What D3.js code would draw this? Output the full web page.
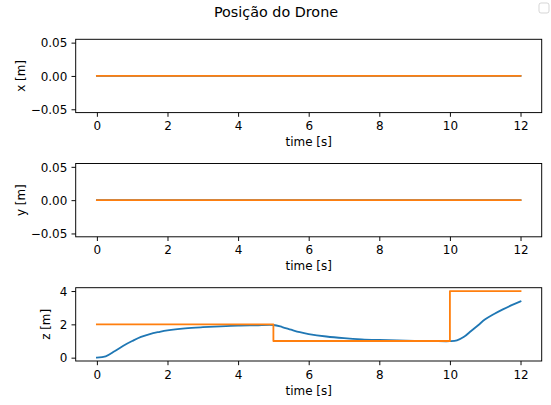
<!DOCTYPE html>
<html>
<head>
<meta charset="utf-8">
<script src="https://cdn.jsdelivr.net/npm/d3@7"></script>
<style>
  body { margin: 0; background: #ffffff; }
  text { font-family: "DejaVu Sans", sans-serif; fill: #000000; }
</style>
</head>
<body>
<div id="drone_chart"></div>
<script>
// referência (degraus) e posição simulada do drone
const time_flat = [0, 12];
const x_pos = [0, 0];
const x_ref = [0, 0];
const y_pos = [0, 0];
const y_ref = [0, 0];

const time_ref = [0, 5, 10, 12];
const z_ref = [2, 1, 4, 4];

const time_pos = [0, 0.25, 0.5, 0.75, 1.0, 1.25, 1.5, 1.75, 2.0, 2.5, 3.0, 3.5, 4.0, 4.5, 5.0,
                  5.25, 5.5, 5.75, 6.0, 6.5, 7.0, 7.5, 8.0, 8.5, 9.0, 9.5, 10.0,
                  10.2, 10.4, 10.6, 10.8, 11.0, 11.25, 11.5, 11.75, 12.0];
const z_pos = [0, 0.08, 0.38, 0.72, 1.0, 1.25, 1.42, 1.54, 1.64, 1.76, 1.83, 1.88, 1.92, 1.94, 1.96,
               1.84, 1.68, 1.53, 1.42, 1.27, 1.17, 1.10, 1.06, 1.03, 1.01, 1.0, 0.99,
               1.04, 1.25, 1.6, 1.95, 2.3, 2.62, 2.9, 3.15, 3.38];

const time_ticks = [0, 2, 4, 6, 8, 10, 12];
const xy_ticks = [-0.05, 0, 0.05];
const z_ticks = [0, 2, 4];

const panel_labels = ["x [m]", "y [m]", "z [m]"];
const title_text = "Posição do Drone";
const xlabel_text = "time [s]";

function generate_drone() {
  const width = 551, height = 405;
  const left = 75.7, right = 541.7;
  const panel_tops = [39.3, 163.5, 287.7];
  const panel_h = 73.3;
  const blue = "#1f77b4", orange = "#ff7f0e";
  const fs = "11.96px";
  const tick_len = 4.2;

  const svg = d3.select("#drone_chart")
    .append("svg")
      .attr("width", width)
      .attr("height", height);

  const x_scale = d3.scaleLinear()
    .domain([-0.6, 12.6])
    .range([left, right]);

  const panels = [
    {label: panel_labels[0], domain: [-0.055, 0.055], ticks: xy_ticks, fmt: d3.format(".2f"), labelX: 25,
     series: [{t: time_flat, v: x_pos, color: blue, curve: d3.curveLinear},
              {t: time_flat, v: x_ref, color: orange, curve: d3.curveLinear}]},
    {label: panel_labels[1], domain: [-0.055, 0.055], ticks: xy_ticks, fmt: d3.format(".2f"), labelX: 25,
     series: [{t: time_flat, v: y_pos, color: blue, curve: d3.curveLinear},
              {t: time_flat, v: y_ref, color: orange, curve: d3.curveLinear}]},
    {label: panel_labels[2], domain: [-0.2, 4.2], ticks: z_ticks, fmt: d3.format("d"), labelX: 50,
     series: [{t: time_pos, v: z_pos, color: blue, curve: d3.curveCatmullRom.alpha(0.5)},
              {t: time_ref, v: z_ref, color: orange, curve: d3.curveStepAfter}]}
  ];

  panels.forEach(function(p, i) {
    const top = panel_tops[i], bottom = top + panel_h;
    const y_scale = d3.scaleLinear()
      .domain(p.domain)
      .range([bottom, top]);

    const g = svg.append("g");

    // Add the lines
    p.series.forEach(function(s) {
      const line = d3.line()
        .x((d, k) => x_scale(s.t[k]))
        .y(d => y_scale(d))
        .curve(s.curve);
      g.append("path")
        .attr("d", line(s.v))
        .attr("fill", "none")
        .attr("stroke", s.color)
        .attr("stroke-width", 1.8)
        .attr("stroke-linecap", "square")
        .attr("stroke-linejoin", "round");
    });

    // frame
    g.append("rect")
      .attr("x", left)
      .attr("y", top)
      .attr("width", right - left)
      .attr("height", panel_h)
      .attr("fill", "none")
      .attr("stroke", "#000")
      .attr("stroke-width", 0.96);

    // X axis
    const xa = g.append("g")
      .attr("transform", `translate(0, ${bottom})`)
      .call(d3.axisBottom(x_scale).tickValues(time_ticks).tickSize(tick_len).tickFormat(d3.format("d")));
    xa.select(".domain").remove();
    xa.selectAll("line").attr("stroke-width", 0.96);
    xa.selectAll("text")
      .attr("y", 17.5)
      .attr("dy", null)
      .style("font-size", fs)
      .style("font-family", "DejaVu Sans, sans-serif");

    // Y axis
    const ya = g.append("g")
      .attr("transform", `translate(${left}, 0)`)
      .call(d3.axisLeft(y_scale).tickValues(p.ticks).tickSize(tick_len).tickPadding(4.2).tickFormat(p.fmt));
    ya.select(".domain").remove();
    ya.selectAll("line").attr("stroke-width", 0.96);
    ya.selectAll("text")
      .attr("dy", "0.36em")
      .style("font-size", fs)
      .style("font-family", "DejaVu Sans, sans-serif");

    // text label for the x axis
    g.append("text")
      .attr("x", (left + right) / 2)
      .attr("y", bottom + 33.5)
      .style("text-anchor", "middle")
      .style("font-size", fs)
      .text(xlabel_text);

    // text label for the y axis
    g.append("text")
      .attr("transform", `translate(${p.labelX}, ${(top + bottom) / 2}) rotate(-90)`)
      .style("text-anchor", "middle")
      .style("font-size", fs)
      .text(p.label);
  });

  // title
  svg.append("text")
    .attr("x", 276)
    .attr("y", 17)
    .style("text-anchor", "middle")
    .style("font-size", "14.35px")
    .text(title_text);

  // empty legend box
  svg.append("rect")
    .attr("x", 539)
    .attr("y", 3)
    .attr("width", 10)
    .attr("height", 10)
    .attr("rx", 2)
    .attr("fill", "#ffffff")
    .attr("stroke", "#cccccc")
    .attr("stroke-opacity", 0.8)
    .attr("stroke-width", 1);
}

generate_drone();
</script>
</body>
</html>
